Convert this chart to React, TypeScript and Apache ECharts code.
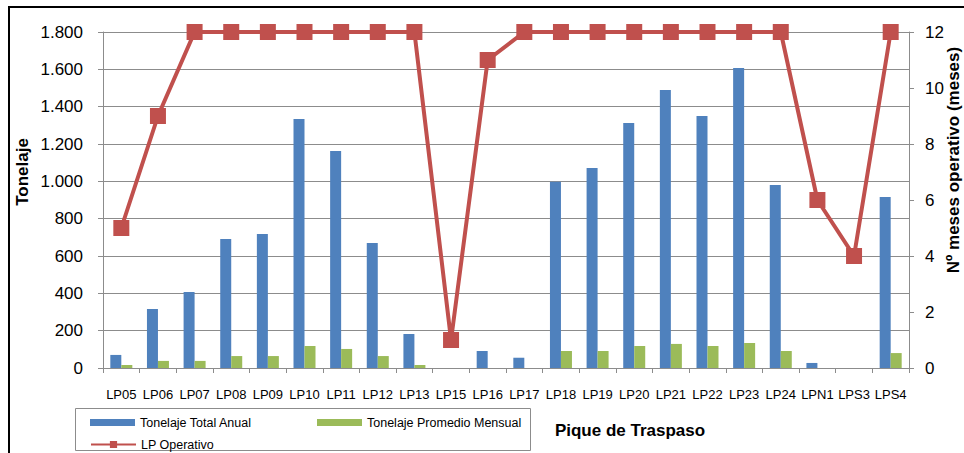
import React, { useEffect, useRef } from "react";
import * as echarts from "echarts";

const categories = [
  "LP05", "LP06", "LP07", "LP08", "LP09", "LP10", "LP11", "LP12", "LP13", "LP15", "LP16",
  "LP17", "LP18", "LP19", "LP20", "LP21", "LP22", "LP23", "LP24", "LPN1", "LPS3", "LPS4",
];
const tonelajeTotalAnual = [
  70, 316, 407, 691, 718, 1334, 1162, 670, 182, 0, 91,
  55, 998, 1071, 1312, 1489, 1350, 1607, 980, 27, 0, 916,
];
const tonelajePromedioMensual = [
  16, 38, 38, 64, 64, 118, 102, 64, 16, 0, 0,
  0, 91, 91, 118, 129, 118, 134, 91, 0, 0, 80,
];
const lpOperativo = [5, 9, 12, 12, 12, 12, 12, 12, 12, 1, 11, 12, 12, 12, 12, 12, 12, 12, 12, 6, 4, 12];

const FONT = "'Liberation Sans', Arial, sans-serif";

export default function App() {
  const ref = useRef<HTMLDivElement>(null);
  useEffect(() => {
    if (!ref.current) return;
    const chart = echarts.init(ref.current, undefined, { renderer: "svg" });
    const gridColor = "#8c8c8c";
    chart.setOption({
      animation: false,
      backgroundColor: "#ffffff",
      textStyle: { fontFamily: FONT },
      grid: { left: 103, right: 55, top: 32, bottom: 85, containLabel: false },
      legend: [
        {
          data: ["Tonelaje Total Anual"],
          left: 85, top: 411, itemWidth: 45, itemHeight: 7, itemGap: 5,
          textStyle: { fontFamily: FONT, fontSize: 12.5, color: "#000" },
          icon: "rect",
        },
        {
          data: ["Tonelaje Promedio Mensual"],
          left: 312, top: 411, itemWidth: 45, itemHeight: 7,
          textStyle: { fontFamily: FONT, fontSize: 12.5, color: "#000" },
          icon: "rect",
        },
        {
          data: ["LP Operativo"],
          left: 85, top: 433, itemWidth: 45, itemHeight: 9,
          textStyle: { fontFamily: FONT, fontSize: 12.5, color: "#000" },
        },
      ],
      xAxis: {
        type: "category",
        data: categories,
        axisLine: { lineStyle: { color: gridColor } },
        axisTick: { show: true, length: 5, lineStyle: { color: gridColor } },
        axisLabel: { fontFamily: FONT, fontSize: 13, color: "#000", margin: 20, interval: 0 },
      },
      yAxis: [
        {
          type: "value",
          min: 0, max: 1800, interval: 200,
          axisLine: { show: true, lineStyle: { color: gridColor } },
          axisTick: { show: true, length: 5, lineStyle: { color: gridColor } },
          splitLine: { lineStyle: { color: gridColor, width: 1 } },
          axisLabel: {
            fontFamily: FONT, fontSize: 17, color: "#000", margin: 20,
            formatter: (v: number) => String(v).replace(/\B(?=(\d{3})+(?!\d))/g, "."),
          },
        },
        {
          type: "value",
          min: 0, max: 12, interval: 2,
          position: "right",
          axisLine: { show: true, lineStyle: { color: gridColor } },
          axisTick: { show: true, length: 5, lineStyle: { color: gridColor } },
          splitLine: { show: false },
          axisLabel: { fontFamily: FONT, fontSize: 17, color: "#000", margin: 16 },
        },
      ],
      series: [
        {
          name: "Tonelaje Total Anual",
          type: "bar",
          data: tonelajeTotalAnual,
          barWidth: 11,
          barGap: "0%",
          itemStyle: { color: "#4F81BD" },
        },
        {
          name: "Tonelaje Promedio Mensual",
          type: "bar",
          data: tonelajePromedioMensual,
          barWidth: 11,
          barGap: "0%",
          itemStyle: { color: "#9BBB59" },
        },
        {
          name: "LP Operativo",
          type: "line",
          yAxisIndex: 1,
          data: lpOperativo,
          symbol: "rect",
          symbolSize: 16,
          lineStyle: { color: "#C0504D", width: 4 },
          itemStyle: { color: "#C0504D" },
          z: 5,
        },
      ],
      graphic: [
        {
          type: "rect",
          shape: { x: 9, y: 7, width: 1000, height: 500 },
          style: { fill: "none", stroke: "#000", lineWidth: 2 },
          z: 100,
        },
        {
          type: "rect",
          shape: { x: 75.5, y: 408.5, width: 455, height: 42 },
          style: { fill: "none", stroke: "#8c8c8c", lineWidth: 1 },
          z: 0,
        },
        {
          type: "text",
          x: 22, y: 172, rotation: Math.PI / 2,
          style: {
            text: "Tonelaje", font: `bold 17px ${FONT}`, fill: "#000",
            align: "center", verticalAlign: "middle",
          },
        },
        {
          type: "text",
          x: 953, y: 160, rotation: Math.PI / 2,
          style: {
            text: "Nº meses operativo (meses)", font: `bold 17px ${FONT}`, fill: "#000",
            align: "center", verticalAlign: "middle",
          },
        },
        {
          type: "text",
          x: 630, y: 430,
          style: {
            text: "Pique de Traspaso", font: `bold 17px ${FONT}`, fill: "#000",
            align: "center", verticalAlign: "middle",
          },
        },
      ],
    });
    return () => chart.dispose();
  }, []);
  return (
    <div
      ref={ref}
      style={{ position: "fixed", left: 0, top: 0, width: 964, height: 453 }}
    />
  );
}
